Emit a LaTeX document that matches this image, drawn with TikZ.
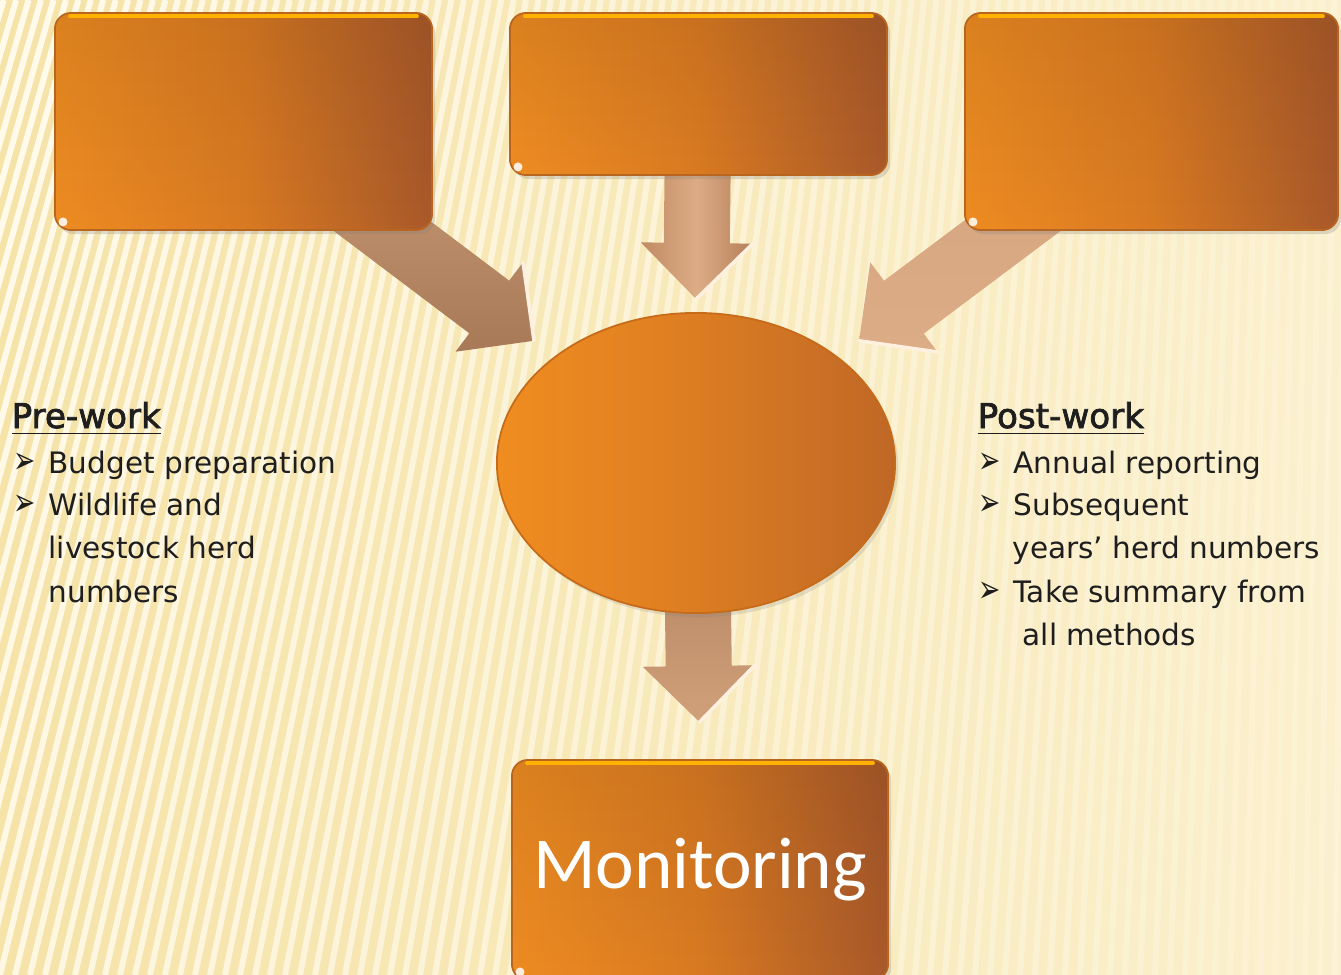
\documentclass[tikz,border=0pt]{standalone}
\usepackage{fontspec}
\setmainfont{DejaVu Sans}
\newfontfamily\calfont{Carlito}
\newfontfamily\headfont[FakeBold=2.2]{DejaVu Sans}
\usetikzlibrary{calc,shadows,shapes.geometric,fadings}

% palette
\definecolor{boxL}{HTML}{EE8C22}
\definecolor{boxM}{HTML}{D97A22}
\definecolor{boxR}{HTML}{A9592A}
\definecolor{boxEdge}{HTML}{B8661F}
\definecolor{hubL}{HTML}{F08D20}
\definecolor{hubR}{HTML}{BF6726}
\definecolor{bgL}{HTML}{F5E3A8}
\definecolor{bgR}{HTML}{FBF0CE}
\definecolor{stripe}{HTML}{FFFAEA}
\definecolor{ink}{HTML}{1E1E1E}
\definecolor{arrA}{HTML}{C08A62}
\definecolor{arrB}{HTML}{DCAC86}
\definecolor{arrC}{HTML}{B47E58}
\definecolor{arrD}{HTML}{A77957}
\definecolor{arrE}{HTML}{D0A07A}

\pgfdeclarelayer{backdrop}
\pgfdeclarelayer{links}
\pgfsetlayers{backdrop,links,main}

\tikzset{
  panel/.style={rectangle, rounded corners=0.16cm, inner sep=0,
    left color=boxL, right color=boxR, middle color=boxM,
    draw=boxEdge, line width=0.5pt,
    drop shadow={shadow xshift=0.03cm, shadow yshift=-0.04cm, opacity=0.25},
    path picture={\fill[black, opacity=0.08, path fading=south]
      (path picture bounding box.south west) rectangle (path picture bounding box.north east);}},
  hub/.style={ellipse, inner sep=0, left color=hubL, right color=hubR,
    middle color=boxM!85!hubL, draw=boxEdge!80!orange, line width=0.5pt,
    drop shadow={shadow xshift=0.03cm, shadow yshift=-0.04cm, opacity=0.2}},
  bodytext/.style={anchor=base west, inner sep=0, text=ink,
    font=\fontsize{8.4}{10}\selectfont},
  headtext/.style={anchor=base west, inner sep=0, text=ink,
    font=\headfont\fontsize{9.7}{11}\selectfont},
  arrowhi/.style={draw=white!88!orange, line width=1pt, line cap=round},
  stripeline/.style={draw=stripe, line width=0.06cm},
  gloss/.style={fill=white, opacity=0.85},
  bevel/.style={draw=orange!60!yellow, line width=1.1pt, line cap=round},
}

% block arrow from #1 to the tip #2, filled with the shading #3
\newcommand\flowarrow[3]{%
  \coordinate (fa-s) at (#1);
  \coordinate (fa-t) at (#2);
  \coordinate (fa-m) at ($(fa-t)!0.56cm!(fa-s)$);
  \shade[#3] ($(fa-s)!0.33cm!90:(fa-t)$) -- ($(fa-m)!0.33cm!90:(fa-t)$)
    -- ($(fa-m)!0.56cm!90:(fa-t)$) -- (fa-t)
    -- ($(fa-m)!0.56cm!-90:(fa-t)$) -- ($(fa-m)!0.33cm!-90:(fa-t)$)
    -- ($(fa-s)!0.33cm!-90:(fa-t)$) -- cycle;
  \draw[arrowhi] ($(fa-m)!0.56cm!90:(fa-t)$) -- (fa-t);
}

\newcommand\bul{\makebox[0.35cm][l]{\scalebox{0.9}[1.3]{➢}}}

\begin{document}
\begin{tikzpicture}[x=0.01cm, y=-0.01cm]
\useasboundingbox (0,0) rectangle (1341,975);
\clip (0,0) rectangle (1341,975);

% striped backdrop
\begin{pgfonlayer}{backdrop}
  \shade[left color=bgL, right color=bgR] (0,0) rectangle (1341,975);
  \foreach \xb [evaluate=\xb as \xt using {0.829*\xb+240},
                evaluate=\xb as \op using {max(0.25,0.9-0.0005*\xb)}]
      in {-300,-285,...,1341}
    \draw[stripeline, opacity=\op] (\xb,975) -- (\xt,0);
\end{pgfonlayer}

% shapes
\node[panel, minimum width=3.77cm, minimum height=2.17cm] (lbox) at (243.5,121.5) {};
\node[panel, minimum width=3.77cm, minimum height=1.62cm] (mbox) at (698.5,94) {};
\node[panel, minimum width=3.73cm, minimum height=2.17cm] (rbox) at (1151.5,121.5) {};
\node[hub, minimum width=3.98cm, minimum height=3.0cm] (ell) at (696,463) {};
\node[panel, minimum width=3.76cm, minimum height=2.2cm,
      font=\calfont\fontsize{20.8}{24}\selectfont, text=white] (mbot) at (700,870) {Monitoring};

% top bevels and corner gloss on the panels
\foreach \b in {lbox,mbox,rbox,mbot}{
  \draw[bevel] ($(\b.north west)+(16,4)$) -- ($(\b.north east)+(-16,4)$);
  \fill[gloss] ($(\b.south west)+(9,-9)$) circle[radius=0.045cm];
}

% arrows between the shapes
\begin{pgfonlayer}{links}
  \flowarrow{lbox.center}{$(lbox.center)!0.642!(ell.center)$}{top color=arrE, bottom color=arrD}
  \flowarrow{rbox.center}{$(rbox.center)!0.642!(ell.center)$}{top color=arrE!70!arrB, bottom color=arrB}
  \flowarrow{mbox.center}{$(ell.north)!0.13cm!(mbox.center)$}{left color=arrA, right color=arrC, middle color=arrB}
  \flowarrow{ell.center}{$(mbot.north)!0.37cm!(ell.center)$}{top color=arrD, bottom color=arrE}
\end{pgfonlayer}

% pre-work list
\node[headtext] (prehead) at (11,428) {\underline{Pre-work}};
\node[bodytext] (pre1) at (13,473) {\bul Budget preparation};
\node[bodytext] (pre2) at (13,515) {\bul Wildlife and};
\node[bodytext] (pre3) at (48,558) {livestock herd};
\node[bodytext] (pre4) at (48,602) {numbers};

% post-work list
\node[headtext] (posthead) at (977,428) {\underline{Post-work}};
\node[bodytext] (post1) at (978,473) {\bul Annual reporting};
\node[bodytext] (post2) at (978,515) {\bul Subsequent};
\node[bodytext] (post3) at (1012,558) {years’ herd numbers};
\node[bodytext] (post4) at (978,602) {\bul Take summary from};
\node[bodytext] (post5) at (1022,645) {all methods};
\end{tikzpicture}
\end{document}
